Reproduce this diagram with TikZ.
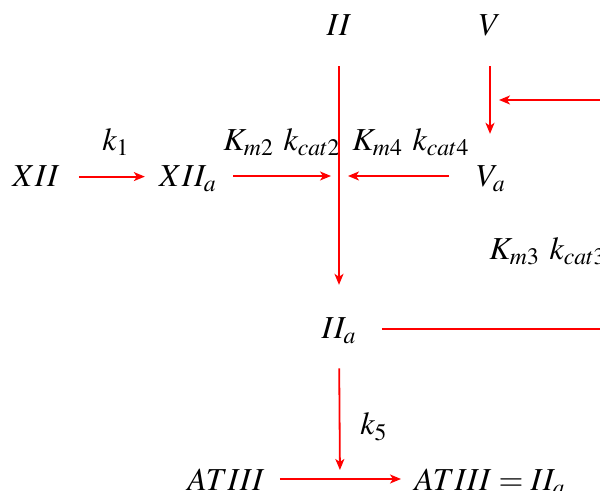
\documentclass[tikz,border=0pt]{standalone}
\usepackage{mathptmx}
\usetikzlibrary{arrows.meta}
\begin{document}
\begin{tikzpicture}[x=0.5pt,y=-0.5pt,
  lbl/.style={inner sep=0pt, text depth=0pt, anchor=base, font=\fontsize{16}{19}\selectfont},
  arr/.style={draw=red, line width=0.9pt, -{Stealth[length=5.5pt,width=4.5pt,inset=1.5pt]}},
  ln/.style={draw=red, line width=0.9pt}]
\useasboundingbox (0,0) rectangle (600,491);
\clip (0,0) rectangle (600,491);
% species
\node[lbl] (XII) at (36,187) {$XII$};
\node[lbl] (XIIa) at (188,187) {$XII_a$};
\node[lbl] (II) at (339,36) {$II$};
\node[lbl] (V) at (490,36) {$V$};
\node[lbl] (Va) at (491,187) {$V_a$};
\node[lbl] (IIa) at (339,339) {$II_a$};
\node[lbl] (ATIII) at (226,491) {$ATIII$};
\node[lbl] (ATIIIeq) at (490,491) {$ATIII=II_a$};
% rate labels
\node[lbl] (k1) at (116,151) {$k_1$};
\node[lbl] (Km2) at (282,151) {$K_{m2}$ $k_{cat2}$};
\node[lbl] (Km4) at (411,151) {$K_{m4}$ $k_{cat4}$};
\node[lbl,anchor=base west] (Km3) at (489,260) {$K_{m3}$ $k_{cat3}$};
\node[lbl] (k5) at (374,435) {$k_5$};
% junctions
\coordinate (J) at (340,176);
\coordinate (J2) at (340,479);
\coordinate (loop) at (650,100);
% connectors
\draw[arr,shorten <=9.5pt,shorten >=7pt] (XII.east) -- (XII.east -| XIIa.west);
\draw[arr,shorten <=8pt,shorten >=4.5pt] (XIIa.east |- J) -- (J);
\draw[arr,shorten <=13.5pt,shorten >=4pt] (Va.west |- J) -- (J);
\draw[arr,shorten <=15pt,shorten >=16.5pt] (II.south) -- (IIa.north);
\draw[arr,shorten <=15pt,shorten >=16pt] (V.south) -- (V.south |- Va.north);
\draw[arr,shorten <=12.5pt,shorten >=4.5pt] (IIa.east) -- (IIa.east -| loop) -- (loop) -- (V |- loop);
\draw[arr,shorten <=14.5pt,shorten >=4.5pt] (IIa.south) -- (J2);
\draw[arr,shorten <=7.5pt,shorten >=6.5pt] (ATIII.east |- J2) -- (J2 -| ATIIIeq.west);
\end{tikzpicture}
\end{document}
